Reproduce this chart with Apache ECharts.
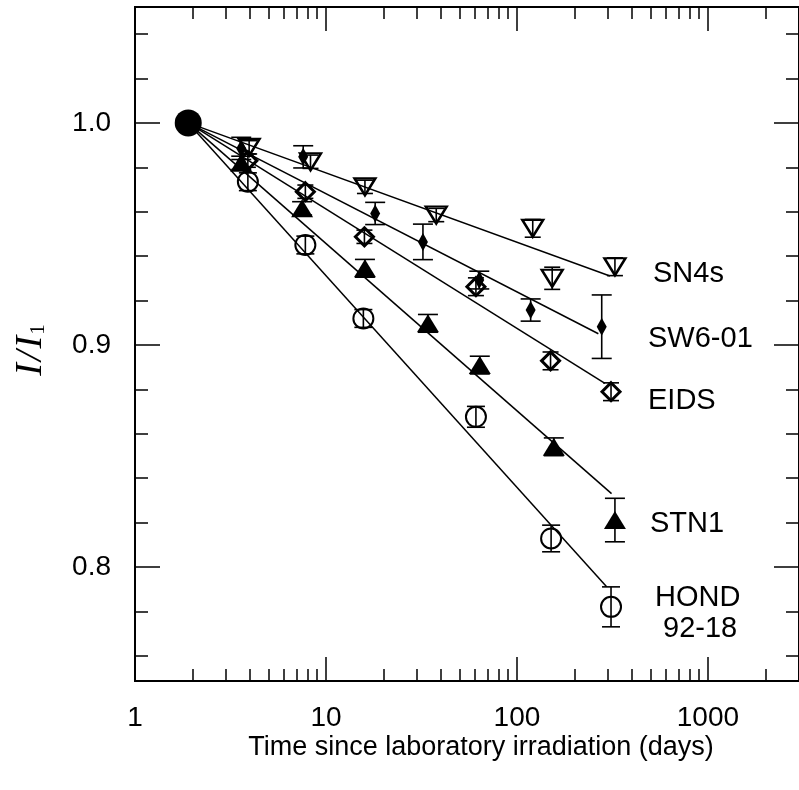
<!DOCTYPE html>
<html><head><meta charset="utf-8">
<script src="https://cdn.jsdelivr.net/npm/echarts@6/dist/echarts.min.js"></script>
<style>html,body{margin:0;padding:0;background:#fff}#c{width:799px;height:790px}</style>
</head><body><div id="c"></div>
<script>
// ---- axis ranges & ticks ----
const xMin = 1, xMax = 3000;
const yMin = 0.7486, yMax = 1.0522;
const xMajorTicks = [1, 10, 100, 1000];
const xMinorTicks = [2,3,4,5,6,7,8,9,20,30,40,50,60,70,80,90,200,300,400,500,600,700,800,900,2000];
const yMajorTicks = [0.8, 0.9, 1.0];
const yMinorTicks = [0.76,0.78,0.82,0.84,0.86,0.88,0.92,0.94,0.96,0.98,1.02,1.04];

// ---- common starting point ----
const startT = [1.9];
const startV = [1.0];

// ---- SN4s ----
const sn4sT = [3.96, 8.3, 16.0, 37.8, 121, 153, 326];
const sn4sV = [0.989, 0.9825, 0.9712, 0.9585, 0.9525, 0.930, 0.9352];
const sn4sE = [0.003, 0.003, 0.003, 0.003, 0.004, 0.005, 0.004];
const sn4sFit = [[1.9, 1.0], [307, 0.931]];

// ---- SW6-01 ----
const sw6T = [3.6, 7.6, 18.1, 32.2, 63.5, 118, 278];
const sw6V = [0.9885, 0.9847, 0.9592, 0.9464, 0.9292, 0.9157, 0.9082];
const sw6E = [0.005, 0.005, 0.005, 0.008, 0.004, 0.005, 0.0143];
const sw6Fit = [[1.9, 1.0], [267, 0.905]];

// ---- EIDS ----
const eidsT = [3.9, 7.8, 15.9, 61.0, 150, 311];
const eidsV = [0.983, 0.969, 0.9487, 0.9262, 0.8928, 0.8789];
const eidsE = [0.003, 0.003, 0.003, 0.004, 0.004, 0.004];
const eidsFit = [[1.9, 1.0], [289, 0.8827]];

// ---- STN1 ----
const stnT = [3.6, 7.5, 16.0, 34.2, 63.9, 156, 326];
const stnV = [0.982, 0.9615, 0.9345, 0.9097, 0.8909, 0.8541, 0.8211];
const stnE = [0.003, 0.003, 0.004, 0.004, 0.004, 0.004, 0.0098];
const stnFit = [[1.9, 1.0], [313, 0.833]];

// ---- HOND 92-18 ----
const hondT = [3.9, 7.8, 15.7, 61, 151, 311];
const hondV = [0.9735, 0.945, 0.9119, 0.8676, 0.8128, 0.782];
const hondE = [0.004, 0.004, 0.004, 0.0047, 0.006, 0.009];
const hondFit = [[1.9, 1.0], [295, 0.791]];

const FONT = '"Liberation Sans", Arial, Helvetica, sans-serif';
const SERIF = '"Liberation Serif", "DejaVu Serif", serif';
const BLACK = '#000';
const CLEAR = 'rgba(0,0,0,0)';

function pts(ts, vs) { return ts.map((t, i) => [t, vs[i]]); }

function errSeries(ts, vs, es, capHalf) {
  return {
    type: 'custom', xAxisIndex: 0, yAxisIndex: 0, silent: true, z: 3,
    encode: { x: 0, y: [1, 2] },
    data: ts.map((t, i) => [t, vs[i] - es[i], vs[i] + es[i]]),
    renderItem(params, api) {
      const x = api.value(0);
      const lo = api.coord([x, api.value(1)]);
      const hi = api.coord([x, api.value(2)]);
      const st = { stroke: BLACK, lineWidth: 1.6 };
      return { type: 'group', children: [
        { type: 'line', shape: { x1: lo[0], y1: lo[1], x2: hi[0], y2: hi[1] }, style: st },
        { type: 'line', shape: { x1: lo[0] - capHalf, y1: lo[1], x2: lo[0] + capHalf, y2: lo[1] }, style: st },
        { type: 'line', shape: { x1: hi[0] - capHalf, y1: hi[1], x2: hi[0] + capHalf, y2: hi[1] }, style: st }
      ]};
    }
  };
}

function fitLine(d) {
  return { type: 'line', data: d, symbol: 'none', silent: true, z: 2,
    lineStyle: { color: BLACK, width: 1.5 } };
}

function scat(ts, vs, symbol, size, filled, rotate, bw) {
  return { type: 'scatter', data: pts(ts, vs), symbol: symbol, symbolSize: size,
    symbolRotate: rotate || 0, z: 4, silent: true,
    itemStyle: { color: filled ? BLACK : CLEAR, borderColor: BLACK, borderWidth: filled ? 0 : (bw || 2.2), opacity: 1 } };
}

function xAx(pos, ticks, len, labels) {
  return {
    type: 'log', logBase: 10, min: xMin, max: xMax, position: pos,
    axisLine: { show: true, onZero: false, lineStyle: { color: BLACK, width: 2 } },
    axisTick: { show: true, inside: true, length: len, customValues: ticks, lineStyle: { color: BLACK, width: 1.5 } },
    axisLabel: labels ? { show: true, customValues: ticks, margin: 23, color: BLACK, fontSize: 28, fontFamily: FONT,
      formatter: v => String(Math.round(v)) } : { show: false },
    splitLine: { show: false }, minorTick: { show: false }
  };
}
function yAx(pos, ticks, len, labels) {
  return {
    type: 'value', min: yMin, max: yMax, position: pos,
    axisLine: { show: true, onZero: false, lineStyle: { color: BLACK, width: 2 } },
    axisTick: { show: true, inside: true, length: len, customValues: ticks, lineStyle: { color: BLACK, width: 1.5 } },
    axisLabel: labels ? { show: true, customValues: ticks, margin: 24, color: BLACK, fontSize: 28, fontFamily: FONT,
      formatter: v => v.toFixed(1) } : { show: false },
    splitLine: { show: false }
  };
}

const chart = echarts.init(document.getElementById('c'), null, { renderer: 'canvas' });
chart.setOption({
  animation: false,
  backgroundColor: '#fff',
  grid: { left: 135, right: -5, top: 7, bottom: 109, containLabel: false },
  xAxis: [
    xAx('bottom', xMajorTicks, 24, true),
    xAx('bottom', xMinorTicks, 12, false),
    xAx('top', xMajorTicks, 24, false),
    xAx('top', xMinorTicks, 12, false)
  ],
  yAxis: [
    yAx('left', yMajorTicks, 25, true),
    yAx('left', yMinorTicks, 13, false),
    yAx('right', yMajorTicks, 25, false),
    yAx('right', yMinorTicks, 13, false)
  ],
  series: [
    fitLine(sn4sFit), fitLine(sw6Fit), fitLine(eidsFit), fitLine(stnFit), fitLine(hondFit),
    errSeries(sn4sT, sn4sV, sn4sE, 8),
    errSeries(sw6T, sw6V, sw6E, 10),
    errSeries(eidsT, eidsV, eidsE, 8),
    errSeries(stnT, stnV, stnE, 10),
    errSeries(hondT, hondV, hondE, 9),
    scat(sn4sT, sn4sV, 'triangle', [21, 17], false, 180, 2.4),
    scat(sw6T, sw6V, 'diamond', [10, 18], true),
    scat(eidsT, eidsV, 'diamond', [18, 18], false, 0, 3),
    scat(stnT, stnV, 'triangle', [22, 18], true),
    scat(hondT, hondV, 'circle', 20, false, 0, 2),
    scat(startT, startV, 'circle', 27, true)
  ],
  graphic: [
    { type: 'text', left: 653, top: 259, style: { text: 'SN4s', font: '29px ' + FONT, fill: BLACK } },
    { type: 'text', left: 648, top: 324, style: { text: 'SW6-01', font: '29px ' + FONT, fill: BLACK } },
    { type: 'text', left: 648, top: 386, style: { text: 'EIDS', font: '29px ' + FONT, fill: BLACK } },
    { type: 'text', left: 650, top: 509, style: { text: 'STN1', font: '29px ' + FONT, fill: BLACK } },
    { type: 'text', left: 655, top: 583, style: { text: 'HOND', font: '29px ' + FONT, fill: BLACK } },
    { type: 'text', left: 663, top: 614, style: { text: '92-18', font: '29px ' + FONT, fill: BLACK } },
    { type: 'text', x: 481, y: 748, style: { text: 'Time since laboratory irradiation (days)', font: '27px ' + FONT, fill: BLACK, align: 'center', verticalAlign: 'middle' } },
    { type: 'text', x: 31, y: 350, rotation: Math.PI / 2, style: {
        text: '{i|I}{k|/}{i|I}{s|1}', align: 'center', verticalAlign: 'middle',
        rich: {
          i: { fontFamily: SERIF, fontStyle: 'italic', fontSize: 38, fill: BLACK },
          k: { fontFamily: SERIF, fontStyle: 'italic', fontSize: 38, fill: BLACK, padding: [0, 2, 0, 2] },
          s: { fontFamily: SERIF, fontSize: 21, fill: BLACK, padding: [14, 0, 0, 1] }
        } } }
  ]
});
</script></body></html>
